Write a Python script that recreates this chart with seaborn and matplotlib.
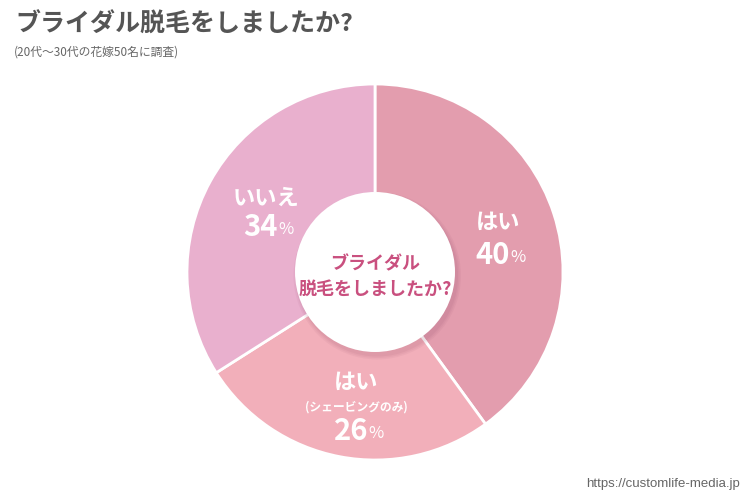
import matplotlib.pyplot as plt
import seaborn as sns
from matplotlib.patches import Circle

# data
labels = ["はい", "はい\n(シェービングのみ)", "いいえ"]
values = [40, 26, 34]
colors = ["#E39DAE", "#F2AFBA", "#E9B0CE"]

title = "ブライダル脱毛をしましたか?"
subtitle = "(20代〜30代の花嫁50名に調査)"
center_text = "ブライダル\n脱毛をしましたか?"

sns.set_theme(style="white")
plt.rcParams['font.family'] = ['Noto Sans CJK JP', 'DejaVu Sans']

W, H = 750, 501
fig = plt.figure(figsize=(7.5, 5.01), dpi=100)
cx, cy, R = 375, 272, 188
ax = fig.add_axes([(cx - R) / W, (H - cy - R) / H, 2 * R / W, 2 * R / H])

ax.pie(values, colors=colors, startangle=90, counterclock=False,
       wedgeprops=dict(edgecolor="white", linewidth=2), radius=1)
ax.set_xlim(-1, 1)
ax.set_ylim(-1, 1)
ax.set_aspect("equal")
ax.axis("off")

r_in = 80 / R
# soft shadow under the hole
for i, a in enumerate([0.05, 0.05, 0.06]):
    ax.add_patch(Circle((0.012, -0.02), r_in + 0.02 - i * 0.008, color="#7a3050", alpha=a, lw=0, zorder=3))
ax.add_patch(Circle((0, 0), r_in, color="white", lw=0, zorder=4))

ax.text(0, 0.045, center_text.split("\n")[0], ha="center", va="center", fontsize=13,
        fontweight="bold", color="#C9507F", zorder=5)
ax.text(0, -0.09, center_text.split("\n")[1], ha="center", va="center", fontsize=13,
        fontweight="bold", color="#C9507F", zorder=5)


def px(x, y):
    return (x - cx) / R, (cy - y) / R


def label(x, y, head, sub=None, sub_y=None):
    hx, hy = px(x, y)
    ax.text(hx, hy, head, ha="center", va="center", fontsize=16, fontweight="bold", color="white", zorder=5)
    if sub:
        sx, sy = px(x, sub_y)
        ax.text(sx, sy, sub, ha="center", va="center", fontsize=8.5, fontweight="bold", color="white", zorder=5)


for (x, y, head, num, ny, sub, sy) in [
    (498, 222, labels[0], values[0], 255, None, None),
    (356, 382, "はい", values[1], 431, "(シェービングのみ)", 407),
    (266, 198, labels[2], values[2], 227, None, None),
]:
    label(x, y, head, sub, sy)
    nx, nyy = px(x + 12, ny)
    ax.text(nx, nyy, str(num), ha="right", va="center", fontsize=21, fontweight="bold",
            color="white", zorder=5)
    ax.text(nx + 0.003, nyy - 0.014, "%", ha="left", va="center", fontsize=12,
            color="white", zorder=5)

fig.text(15 / W, 1 - 25 / H, title, ha="left", va="center", fontsize=18,
         fontweight="bold", color="#555555")
fig.text(14 / W, 1 - 52 / H, subtitle, ha="left", va="center", fontsize=8.5,
         color="#666666")
fig.text(740 / W, 1 - 484 / H, "https://customlife-media.jp", ha="right", va="center",
         fontsize=9.5, color="#666666", family="Liberation Sans")

fig.savefig("out.png", dpi=100, facecolor="white")
